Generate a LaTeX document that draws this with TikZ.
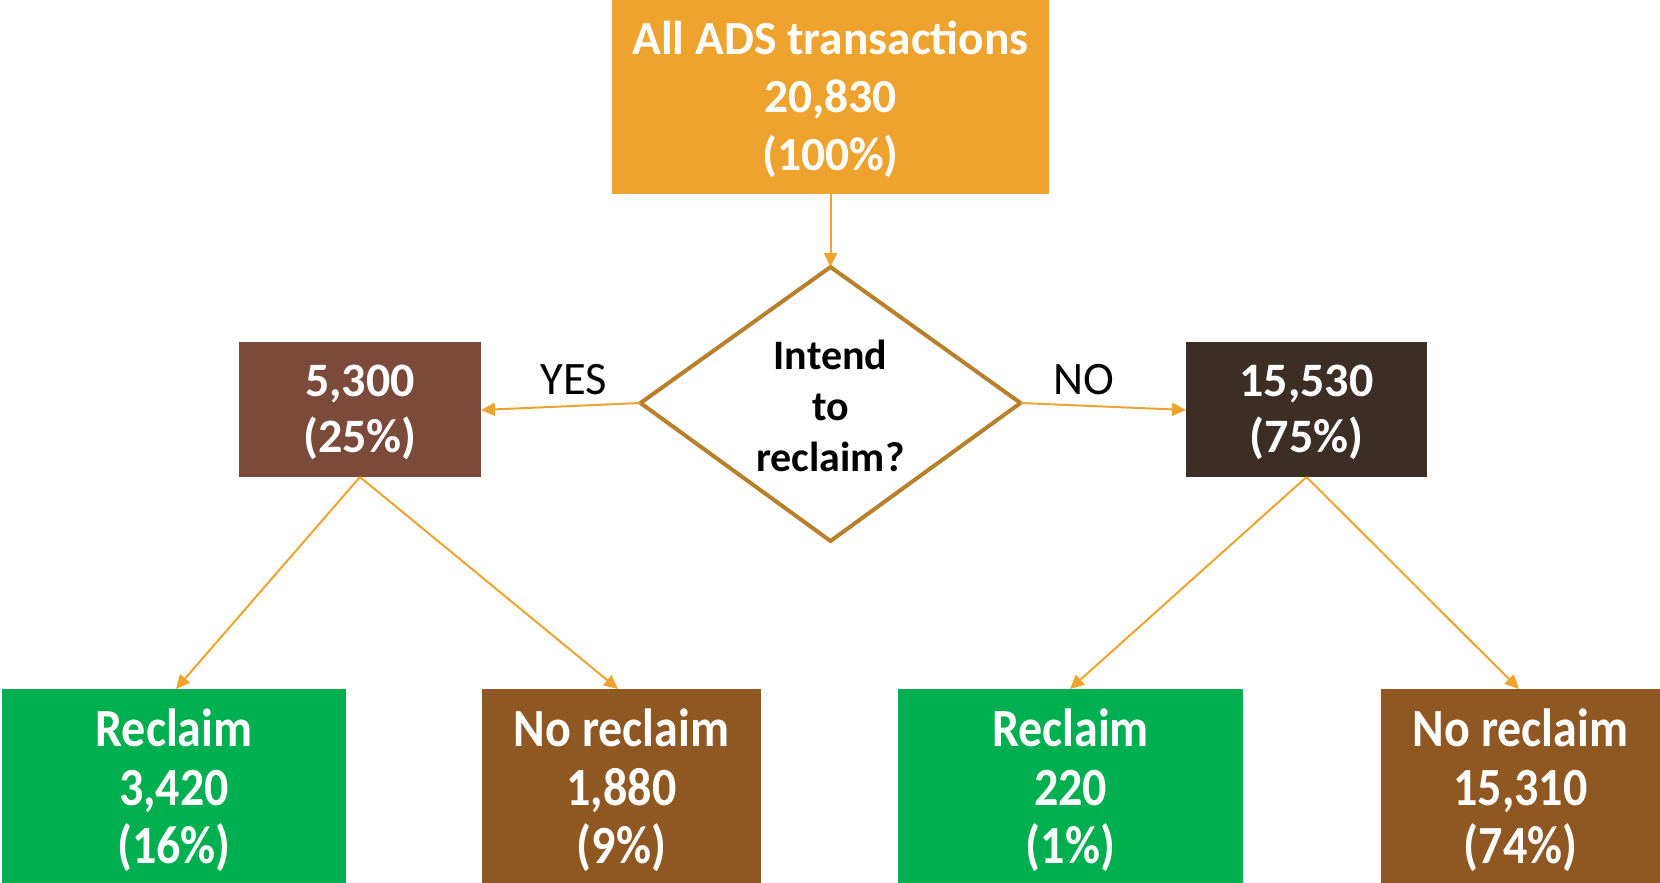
\documentclass[tikz,border=0pt]{standalone}
\usepackage{fontspec}
\setmainfont{Carlito}
\usetikzlibrary{arrows.meta,shapes.geometric}
\definecolor{toporange}{HTML}{EEA32F}
\definecolor{yesbrown}{HTML}{7B4A3B}
\definecolor{nodark}{HTML}{3D2E25}
\definecolor{leafgreen}{HTML}{00AF50}
\definecolor{leafbrown}{HTML}{8F5822}
\definecolor{diaborder}{HTML}{B8802A}
\definecolor{arrowc}{HTML}{EEA32F}
\newcommand{\tl}[1]{\scalebox{1}[1.12]{#1}}
\begin{document}
\begin{tikzpicture}[x=1pt,y=-1pt,
  box/.style={draw=none,inner sep=0pt,text=white,align=center,
    font=\bfseries\fontsize{46}{57}\selectfont},
  conn/.style={draw=arrowc,line width=2pt,-{Triangle[length=14pt,width=13pt]}},
  lbl/.style={font=\fontsize{46.5}{55}\selectfont,text=black}]
\useasboundingbox (0,0) rectangle (1660,883);
% top box
\fill[toporange] (612,0) rectangle (1049,194);
\node[box,font=\bfseries\fontsize{47.5}{58}\selectfont] (top) at (830.5,99.5) {All ADS transactions\\20,830\\(100\%)};
\coordinate (topS) at (830.5,194);
% diamond
\coordinate (dT) at (830.5,267);
\coordinate (dL) at (640.5,403);
\coordinate (dR) at (1020.5,403);
\coordinate (dB) at (830.5,541);
\draw[diaborder,line width=4pt,line join=miter,fill=white] (dT) -- (dR) -- (dB) -- (dL) -- cycle;
\node[align=center,font=\bfseries\fontsize{42}{51}\selectfont] (dec) at (830.5,406) {Intend\\to\\reclaim?};
% middle boxes
\fill[yesbrown] (239,342) rectangle (481,477);
\node[box,font=\bfseries\fontsize{48}{56}\selectfont] (yesbox) at (360,412) {5,300\\(25\%)};
\fill[nodark] (1186,342) rectangle (1427,477);
\node[box,font=\bfseries\fontsize{48}{56}\selectfont] (nobox) at (1306.5,412) {15,530\\(75\%)};
\coordinate (yesE) at (481,410);
\coordinate (noW) at (1186,410);
\coordinate (yesS) at (360,477);
\coordinate (noS) at (1306.5,477);
% leaves
\fill[leafgreen] (2,689) rectangle (346,883);
\node[box,font=\bfseries\fontsize{48}{58.5}\selectfont] (l1) at (174,790.5) {\tl{Reclaim}\\\tl{3,420}\\\tl{(16\%)}};
\fill[leafbrown] (482,689) rectangle (761,883);
\node[box,font=\bfseries\fontsize{48}{58.5}\selectfont] (l2) at (621.5,790.5) {\tl{No reclaim}\\\tl{1,880}\\\tl{(9\%)}};
\fill[leafgreen] (898,689) rectangle (1243,883);
\node[box,font=\bfseries\fontsize{48}{58.5}\selectfont] (l3) at (1070.5,790.5) {\tl{Reclaim}\\\tl{220}\\\tl{(1\%)}};
\fill[leafbrown] (1381,689) rectangle (1660,883);
\node[box,font=\bfseries\fontsize{48}{58.5}\selectfont] (l4) at (1520.5,790.5) {\tl{No reclaim}\\\tl{15,310}\\\tl{(74\%)}};
\coordinate (l1N) at (176,689);
\coordinate (l2N) at (618,689);
\coordinate (l3N) at (1070,689);
\coordinate (l4N) at (1519,689);
% connectors
\draw[conn] (topS) -- (dT);
\draw[conn] (dL) -- (yesE);
\draw[conn] (dR) -- (noW);
\draw[conn] (yesS) -- (l1N);
\draw[conn] (yesS) -- (l2N);
\draw[conn] (noS) -- (l3N);
\draw[conn] (noS) -- (l4N);
% labels
\node[lbl] (yes) at (574,380) {YES};
\node[lbl] (no) at (1084,380) {NO};
\end{tikzpicture}
\end{document}
